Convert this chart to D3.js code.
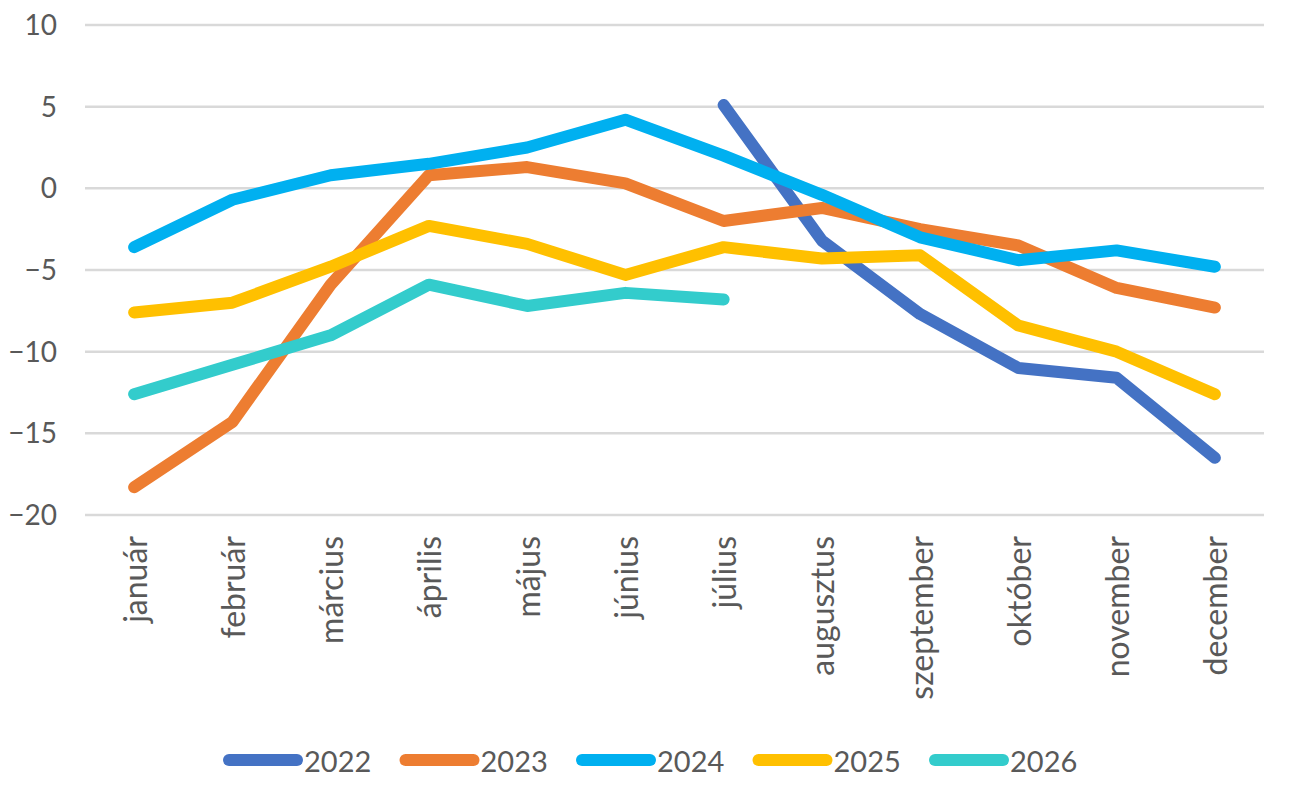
<!DOCTYPE html>
<html>
<head>
<meta charset="utf-8">
<script src="https://cdn.jsdelivr.net/npm/d3@7/dist/d3.min.js"></script>
<style>
  html, body { margin: 0; padding: 0; background: #ffffff; }
  svg { display: block; }
  text { font-family: Lato, "Open Sans", sans-serif; fill: #595959; }
</style>
</head>
<body>
<svg id="chart" width="1290" height="792"></svg>
<script>
const months = ["január","február","március","április","május","június","július","augusztus","szeptember","október","november","december"];
const years = ["2022","2023","2024","2025","2026"];
const colors = ["#4472C4","#ED7D31","#00B0F0","#FFC000","#33CCCC"];
const yTicks = [-20,-15,-10,-5,0,5,10];

const v2022 = [null,null,null,null,null,null,5.1,-3.2,-7.7,-11.0,-11.6,-16.5];
const v2023 = [-18.3,-14.3,-5.9,0.8,1.3,0.3,-2.0,-1.2,-2.5,-3.5,-6.1,-7.3];
const v2024 = [-3.6,-0.7,0.8,1.5,2.5,4.2,2.0,-0.4,-3.0,-4.4,-3.8,-4.8];
const v2025 = [-7.6,-7.0,-4.8,-2.3,-3.4,-5.3,-3.6,-4.3,-4.1,-8.4,-10.0,-12.6];
const v2026 = [-12.6,-10.8,-9.0,-5.9,-7.2,-6.4,-6.8,null,null,null,null,null];
const seriesValues = [v2022, v2023, v2024, v2025, v2026];

const svg = d3.select("#chart");
const mLeft = 85, mRight = 1264, mTop = 25, mBottom = 515;

const x = d3.scaleBand().domain(months).range([mLeft, mRight]);
const y = d3.scaleLinear().domain([-20, 10]).range([mBottom, mTop]);

// gridlines
svg.append("g").selectAll("line").data(yTicks).join("line")
  .attr("x1", mLeft).attr("x2", mRight)
  .attr("y1", d => y(d)).attr("y2", d => y(d))
  .attr("stroke", "#d9d9d9").attr("stroke-width", 2.5);

// y axis labels
const yAxis = svg.append("g").attr("transform", `translate(${mLeft - 28},0)`)
  .call(d3.axisLeft(y).tickValues(yTicks).tickSize(0).tickPadding(0).tickFormat(d3.format("d")));
yAxis.select(".domain").remove();
yAxis.selectAll("text").attr("font-size", 28).attr("fill", "#595959")
  .style("font-family", "Lato, 'Open Sans', sans-serif").attr("dy", "0.34em");

// x axis labels
const xAxis = svg.append("g").attr("transform", `translate(0,${mBottom})`)
  .call(d3.axisBottom(x).tickSize(0).tickPadding(0));
xAxis.select(".domain").remove();
xAxis.selectAll("text")
  .attr("font-size", 32).attr("fill", "#595959")
  .style("font-family", "Lato, 'Open Sans', sans-serif")
  .attr("text-anchor", "end")
  .attr("transform", "translate(1,21) rotate(-90)")
  .attr("x", 0).attr("y", 0).attr("dy", "0.36em");

// lines
const line = d3.line()
  .defined(d => d.v !== null)
  .x(d => x(d.m) + x.bandwidth() / 2)
  .y(d => y(d.v));

years.forEach((yr, i) => {
  const pts = months.map((m, j) => ({ m, v: seriesValues[i][j] }));
  svg.append("path").datum(pts)
    .attr("d", line)
    .attr("fill", "none")
    .attr("stroke", colors[i])
    .attr("stroke-width", 12)
    .attr("stroke-linecap", "round")
    .attr("stroke-linejoin", "round");
});

// legend
const legX = d3.scalePoint().domain(years).range([223, 929]);
const leg = svg.append("g");
years.forEach((yr, i) => {
  const gx = legX(yr);
  leg.append("line")
    .attr("x1", gx + 6).attr("x2", gx + 74)
    .attr("y1", 760).attr("y2", 760)
    .attr("stroke", colors[i]).attr("stroke-width", 12)
    .attr("stroke-linecap", "round");
  leg.append("text")
    .attr("x", gx + 81).attr("y", 772)
    .attr("font-size", 29)
    .text(yr);
});
</script>
</body>
</html>
